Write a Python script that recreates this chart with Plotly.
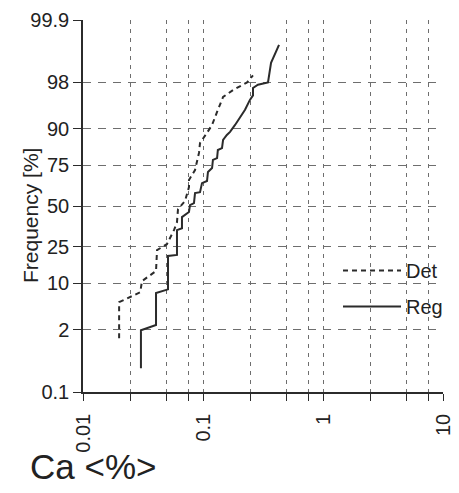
import plotly.graph_objects as go
from statistics import NormalDist

# ---- data ----
reg_x = [0.0304, 0.0304, 0.0406, 0.0406, 0.0511, 0.0511, 0.0607, 0.0607, 0.0668, 0.0668,
         0.0764, 0.0779, 0.0841, 0.0858, 0.0944, 0.0981, 0.108, 0.110, 0.119, 0.121,
         0.131, 0.133, 0.144, 0.147, 0.158, 0.168, 0.185, 0.203, 0.224, 0.246,
         0.261, 0.261, 0.287, 0.348, 0.369, 0.430]
reg_p = [0.35, 1.95, 2.4, 7.4, 8.3, 20.3, 20.8, 34.4, 35.6, 42.7,
         46.0, 50.6, 51.9, 58.5, 59.1, 64.8, 66.1, 71.4, 73.6, 77.8,
         78.7, 82.4, 83.2, 86.4, 88.1, 89.1, 91.1, 92.8, 94.5, 96.1,
         96.7, 97.5, 97.8, 98.0, 99.13, 99.63]

det_x = [0.020, 0.020, 0.030, 0.031, 0.0406, 0.0414, 0.050, 0.0541, 0.0573, 0.0607,
         0.0619, 0.0708, 0.0764, 0.0764, 0.0858, 0.0926, 0.0944, 0.108, 0.119, 0.131,
         0.147, 0.178, 0.233, 0.261]
det_p = [1.4, 5.5, 7.6, 10.6, 14.0, 23.2, 26.3, 30.8, 34.4, 39.4,
         47.9, 53.3, 62.3, 66.7, 72.5, 81.1, 85.2, 88.8, 91.1, 94.1,
         96.5, 97.3, 98.0, 98.5]

y_ticks = [0.1, 2, 10, 25, 50, 75, 90, 98, 99.9]
y_tick_labels = ["0.1", "2", "10", "25", "50", "75", "90", "98", "99.9"]
x_ticks = [0.01, 0.025, 0.05, 0.075, 0.1, 0.25, 0.5, 0.75, 1, 2.5, 5, 7.5, 10]
x_tick_labels = ["0.01", "", "", "", "0.1", "", "", "", "1", "", "", "", "10"]

nd = NormalDist()
def z(p):
    return nd.inv_cdf(p / 100.0)

W, H = 459, 493
ML, MR, MT, MB = 83, 16, 20, 101
pw, ph = W - ML - MR, H - MT - MB

def px(xp):
    return (xp - ML) / pw
def py(yp):
    return (H - MB - yp) / ph

LINE = "#2b2b2b"
GRID = "#6e6e6e"
FONT = "Liberation Sans, Arial, sans-serif"

fig = go.Figure()
fig.add_trace(go.Scatter(x=det_x, y=[z(v) for v in det_p], mode="lines", name="Det",
                         legendgroup="a",
                         line=dict(color=LINE, width=2, dash="5px,4px")))
fig.add_trace(go.Scatter(x=reg_x, y=[z(v) for v in reg_p], mode="lines", name="Reg",
                         legendgroup="b",
                         line=dict(color=LINE, width=2)))

fig.add_shape(type="rect", xref="paper", yref="paper",
              x0=px(312), x1=px(447), y0=py(343), y1=py(225),
              fillcolor="white", line=dict(width=0), layer="between")

fig.add_annotation(text="Frequency [%]", xref="paper", yref="paper",
                   x=px(30), y=py(216), xanchor="center", yanchor="middle",
                   textangle=-90, showarrow=False,
                   font=dict(family=FONT, size=21, color="#222"))
fig.add_annotation(text="Ca &lt;%&gt;", xref="paper", yref="paper",
                   x=px(28), y=py(466), xanchor="left", yanchor="middle",
                   showarrow=False,
                   font=dict(family=FONT, size=35, color="#222"))

fig.update_xaxes(type="log", range=[-2, 1], tickvals=x_ticks, ticktext=x_tick_labels,
                 tickangle=-90, ticks="outside", ticklen=7, tickcolor=LINE,
                 ticklabelstandoff=5,
                 showline=True, linecolor=LINE, linewidth=1.5,
                 showgrid=True, gridcolor=GRID, griddash="4px,5px", gridwidth=1,
                 zeroline=False,
                 tickfont=dict(family=FONT, size=20, color="#222"))
fig.update_yaxes(range=[z(0.1), z(99.9)], tickvals=[z(v) for v in y_ticks],
                 ticktext=y_tick_labels, ticks="outside", ticklen=8, tickcolor=LINE,
                 showline=True, linecolor=LINE, linewidth=1.5,
                 showgrid=True, gridcolor=GRID, griddash="8px,7px", gridwidth=1,
                 zeroline=False,
                 tickfont=dict(family=FONT, size=20, color="#222"))

fig.update_layout(
    width=W, height=H,
    margin=dict(l=ML, r=MR, t=MT, b=MB, autoexpand=False),
    paper_bgcolor="white", plot_bgcolor="white",
    showlegend=True,
    legend=dict(x=px(338), y=py(251), xanchor="left", yanchor="top",
                bgcolor="rgba(0,0,0,0)", tracegroupgap=7, itemwidth=58,
                font=dict(family=FONT, size=20, color="#222")),
)

fig.write_html("out.html", config={"displayModeBar": False},
               post_script="document.body.style.margin='0';")
